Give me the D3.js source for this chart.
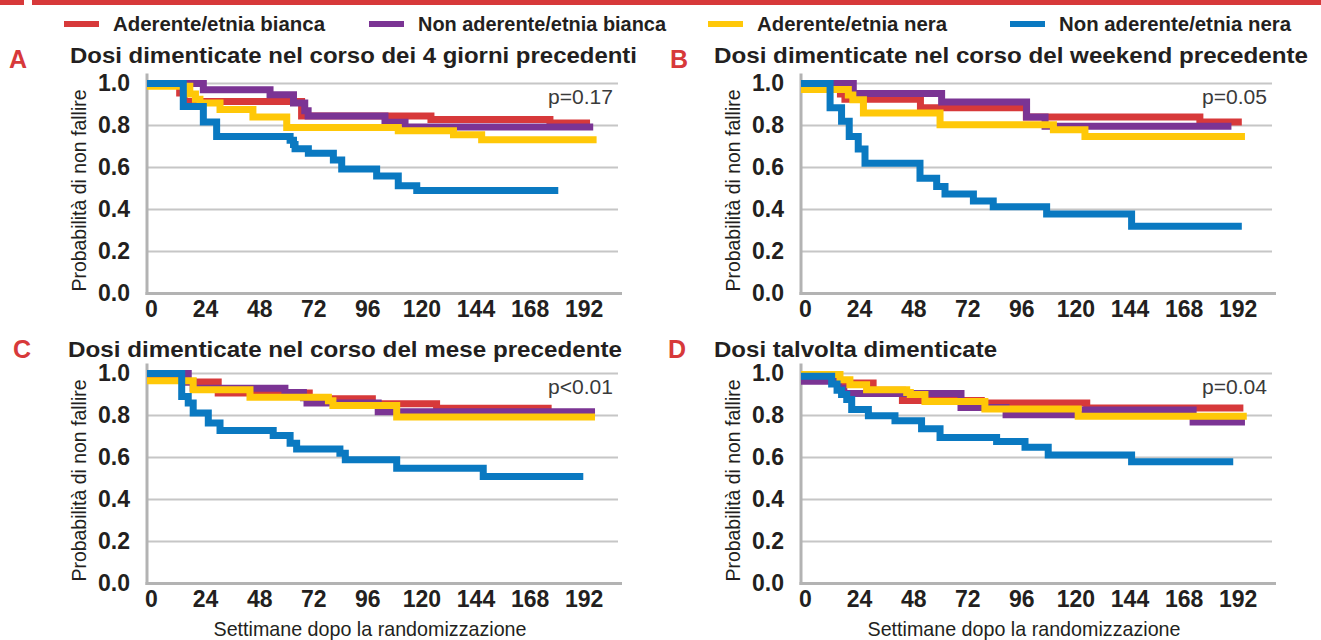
<!DOCTYPE html>
<html>
<head>
<meta charset="utf-8">
<script src="https://cdn.jsdelivr.net/npm/d3@7"></script>
<style>
  body { margin: 0; background: #fff; }
  svg { display: block; font-family: "Liberation Sans", Arial, sans-serif; }
</style>
</head>
<body>
<div class="chart"></div>
<script>
// ---- data ----
var seriesNames = ["Aderente/etnia bianca", "Non aderente/etnia bianca", "Aderente/etnia nera", "Non aderente/etnia nera"];
var xTicks = [0, 24, 48, 72, 96, 120, 144, 168, 192];
var yTicks = [0, 0.2, 0.4, 0.6, 0.8, 1.0];
var panelLetters = ["A", "B", "C", "D"];
var panelTitles = [
  "Dosi dimenticate nel corso dei 4 giorni precedenti",
  "Dosi dimenticate nel corso del weekend precedente",
  "Dosi dimenticate nel corso del mese precedente",
  "Dosi talvolta dimenticate"
];
var pValues = ["p=0.17", "p=0.05", "p<0.01", "p=0.04"];
var xTitle = "Settimane dopo la randomizzazione";
var yTitle = "Probabilità di non fallire";

// [settimana, probabilità]
var aRed = [[0,0.995],[14.5,0.955],[16.5,0.914],[68.6,0.845],[126,0.828],[178.8,0.812],[196.6,0.812]];
var aPurple = [[0,1.0],[25,0.97],[54.6,0.947],[65,0.907],[70,0.87],[71.5,0.845],[105.6,0.815],[114.5,0.793],[198,0.793]];
var aYellow = [[0,0.987],[19,0.95],[21.5,0.925],[23.5,0.907],[32.4,0.876],[47,0.84],[62,0.791],[111.5,0.775],[136,0.756],[148.5,0.732],[199.5,0.732]];
var aBlue = [[0,1.0],[16.1,0.891],[25,0.817],[30.9,0.748],[63.5,0.73],[65,0.71],[65.7,0.689],[71.6,0.668],[82.7,0.636],[86.4,0.593],[101.9,0.56],[111.5,0.513],[119.7,0.491],[182.5,0.491]];

var bRed = [[0,0.976],[15.8,0.976],[17.5,0.95],[19.5,0.925],[53,0.884],[100,0.84],[177,0.817],[195.6,0.817]];
var bPurple = [[0,1.0],[23.2,0.952],[62.4,0.912],[100.1,0.84],[108.3,0.796],[191,0.796]];
var bYellow = [[0,0.971],[16.6,0.971],[21,0.945],[23,0.923],[27.7,0.86],[61.7,0.804],[112,0.78],[126,0.748],[197,0.748]];
var bBlue = [[0,1.0],[12.9,0.884],[18,0.82],[21.4,0.748],[25.4,0.688],[28.4,0.62],[52.8,0.549],[60.2,0.509],[63.9,0.474],[76.5,0.44],[85.3,0.413],[109,0.378],[146.7,0.32],[195.6,0.32]];

var cRed = [[0,0.971],[17,0.96],[31.6,0.907],[72,0.88],[100,0.856],[128.5,0.835],[178,0.812],[198.8,0.812]];
var cPurple = [[0,1.0],[18.3,0.96],[20.5,0.93],[61.2,0.91],[69.4,0.885],[71,0.86],[102.6,0.818],[198.8,0.818]];
var cYellow = [[0,0.965],[19,0.965],[20.5,0.923],[45.7,0.887],[80.5,0.87],[82.5,0.848],[110.8,0.793],[198.8,0.793]];
var cBlue = [[0,1.0],[15.4,0.891],[18.3,0.86],[20.5,0.812],[27.2,0.764],[32.4,0.729],[56,0.705],[63.5,0.668],[66.4,0.64],[85.6,0.62],[88,0.589],[110.8,0.549],[149.2,0.509],[193.6,0.509]];

var dRed = [[0,0.99],[16.4,0.955],[32,0.92],[45,0.872],[80,0.86],[126.8,0.836],[196.3,0.836]];
var dPurple = [[0,0.963],[16.6,0.93],[19,0.905],[71,0.838],[91,0.804],[126,0.826],[174,0.769],[197,0.769]];
var dYellow = [[0,0.995],[17.3,0.97],[21.7,0.947],[29.1,0.923],[46.9,0.91],[48.5,0.9],[55,0.867],[81.6,0.831],[123,0.796],[197.8,0.796]];
var dBlue = [[0,0.987],[13.6,0.95],[16,0.92],[18,0.9],[20.3,0.876],[22.5,0.828],[29.9,0.799],[41.7,0.775],[53.5,0.737],[61.7,0.695],[86.8,0.676],[99.4,0.649],[109.7,0.612],[146.7,0.58],[191.8,0.58]];

var panelSeries = [
  [aRed, aPurple, aYellow, aBlue],
  [bRed, bPurple, bYellow, bBlue],
  [cRed, cPurple, cYellow, cBlue],
  [dRed, dPurple, dYellow, dBlue]
];

// ---- layout / style ----
var colors = ["#d7393a", "#7b3494", "#ffc808", "#0a79c1"];
var width = 1321, height = 640;
var plotW = 471, plotH = 210;
var panelPos = [{x: 147, y: 83.5}, {x: 801, y: 83.5}, {x: 147, y: 373.5}, {x: 801, y: 373.5}];
var titlePos = [
  {lx: 9, ly: 68, tx: 70, ty: 63, tw: 567},
  {lx: 670, ly: 68, tx: 714, ty: 63, tw: 594},
  {lx: 13, ly: 358, tx: 68, ty: 357, tw: 554},
  {lx: 668, ly: 358, tx: 714, ty: 357, tw: 283}
];
var legendPos = [{x: 64, tw: 212}, {x: 369, tw: 248}, {x: 708, tw: 190}, {x: 1010, tw: 232}];

var svg = d3.select(".chart")
  .append("svg")
  .attr("width", width)
  .attr("height", height);

// top red rule
svg.append("rect").attr("x", 0).attr("y", 0).attr("width", 24).attr("height", 5).attr("fill", "#d7393a");
svg.append("rect").attr("x", 32).attr("y", 0).attr("width", width - 32).attr("height", 5).attr("fill", "#d7393a");

// legend
var legend = svg.append("g").selectAll("g")
  .data(seriesNames)
  .enter().append("g")
  .attr("transform", function(d, i) { return "translate(" + legendPos[i].x + ",0)"; });
legend.append("rect")
  .attr("x", 0).attr("y", 21)
  .attr("width", 35).attr("height", 6)
  .attr("fill", function(d, i) { return colors[i]; });
legend.append("text")
  .attr("x", 49).attr("y", 31)
  .attr("font-size", 21).attr("font-weight", "bold").attr("fill", "#231f20")
  .attr("textLength", function(d, i) { return legendPos[i].tw; })
  .attr("lengthAdjust", "spacingAndGlyphs")
  .text(function(d) { return d; });

var x = d3.scaleLinear().domain([0, 209]).range([0, plotW]);
var y = d3.scaleLinear().domain([0, 1]).range([plotH, 0]);

var line = d3.line()
  .x(function(d) { return x(d[0]); })
  .y(function(d) { return y(d[1]); })
  .curve(d3.curveStepAfter);

panelSeries.forEach(function(series, p) {
  var tp = titlePos[p];
  svg.append("text")
    .attr("x", tp.lx).attr("y", tp.ly)
    .attr("font-size", 25).attr("font-weight", "bold").attr("fill", "#d7393a")
    .text(panelLetters[p]);
  svg.append("text")
    .attr("x", tp.tx).attr("y", tp.ty)
    .attr("font-size", 22).attr("font-weight", "bold").attr("fill", "#231f20")
    .attr("textLength", tp.tw).attr("lengthAdjust", "spacingAndGlyphs")
    .text(panelTitles[p]);

  var g = svg.append("g")
    .attr("transform", "translate(" + panelPos[p].x + "," + panelPos[p].y + ")");

  // grid
  g.append("g").selectAll("line")
    .data(yTicks.filter(function(d) { return d > 0; }))
    .enter().append("line")
    .attr("x1", 0).attr("x2", plotW)
    .attr("y1", function(d) { return y(d); })
    .attr("y2", function(d) { return y(d); })
    .attr("stroke", "#c6c6c6").attr("stroke-width", 2);

  // axes lines
  g.append("line").attr("x1", 0).attr("x2", 0).attr("y1", -10).attr("y2", plotH + 1.5)
    .attr("stroke", "#b3b3b3").attr("stroke-width", 3);
  g.append("line").attr("x1", -1.5).attr("x2", plotW + 4).attr("y1", plotH).attr("y2", plotH)
    .attr("stroke", "#b3b3b3").attr("stroke-width", 3);

  var yAxis = g.append("g")
    .call(d3.axisLeft(y).tickValues(yTicks).tickFormat(d3.format(".1f")).tickSize(0).tickPadding(17));
  yAxis.select(".domain").remove();
  yAxis.selectAll("text")
    .attr("font-size", 23).attr("font-weight", "bold").attr("fill", "#231f20")
    .style("font-family", "'Liberation Sans', Arial, sans-serif");

  var xAxis = g.append("g")
    .attr("transform", "translate(0," + plotH + ")")
    .call(d3.axisBottom(x).tickValues(xTicks).tickFormat(d3.format("d")).tickSize(0).tickPadding(7));
  xAxis.select(".domain").remove();
  xAxis.selectAll("text")
    .attr("dx", 4)
    .attr("font-size", 23).attr("font-weight", "bold").attr("fill", "#231f20")
    .style("font-family", "'Liberation Sans', Arial, sans-serif");

  // y title
  g.append("text")
    .attr("transform", "translate(-61," + (plotH / 2 + 2) + ") rotate(-90)")
    .attr("text-anchor", "middle")
    .attr("font-size", 21).attr("fill", "#231f20")
    .attr("textLength", 202).attr("lengthAdjust", "spacingAndGlyphs")
    .text(yTitle);

  // p value
  g.append("text")
    .attr("x", 466).attr("y", 20)
    .attr("text-anchor", "end")
    .attr("font-size", 20).attr("fill", "#3a3a3a")
    .attr("textLength", 65).attr("lengthAdjust", "spacingAndGlyphs")
    .text(pValues[p]);

  if (p >= 2) {
    g.append("text")
      .attr("x", 223).attr("y", 262.5)
      .attr("text-anchor", "middle")
      .attr("font-size", 21).attr("fill", "#231f20")
      .attr("textLength", 313).attr("lengthAdjust", "spacingAndGlyphs")
      .text(xTitle);
  }

  // curves: red, purple, yellow, blue (blue on top)
  g.append("g").selectAll("path")
    .data(series)
    .enter().append("path")
    .attr("d", line)
    .attr("fill", "none")
    .attr("stroke", function(d, i) { return colors[i]; })
    .attr("stroke-width", 7)
    .attr("stroke-linejoin", "miter");
});
</script>
</body>
</html>
